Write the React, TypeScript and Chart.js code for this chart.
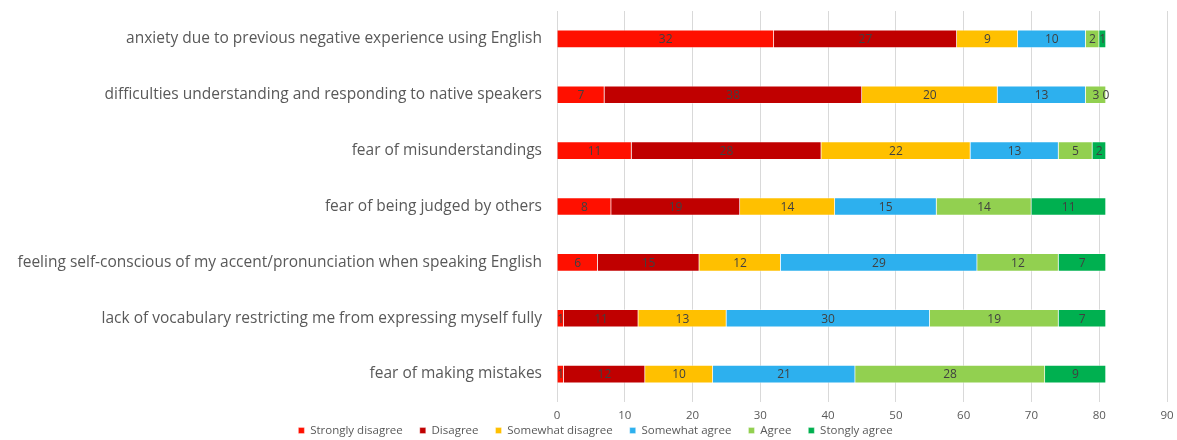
import React, { useEffect, useRef } from "react";
import { Chart, registerables } from "chart.js";

Chart.register(...registerables);

const categories = [
  "anxiety due to previous negative experience using English",
  "difficulties understanding and responding to native speakers",
  "fear of misunderstandings",
  "fear of being judged by others",
  "feeling self-conscious of my accent/pronunciation when speaking English",
  "lack of vocabulary restricting me from expressing myself fully",
  "fear of making mistakes",
];

const stronglyDisagree = [32, 7, 11, 8, 6, 1, 1];
const disagree = [27, 38, 28, 19, 15, 11, 12];
const somewhatDisagree = [9, 20, 22, 14, 12, 13, 10];
const somewhatAgree = [10, 13, 13, 15, 29, 30, 21];
const agree = [2, 3, 5, 14, 12, 19, 28];
const stronglyAgree = [1, 0, 2, 11, 7, 7, 9];

const seriesNames = [
  "Strongly disagree",
  "Disagree",
  "Somewhat disagree",
  "Somewhat agree",
  "Agree",
  "Stongly agree",
];
const seriesColors = ["#FF1000", "#C00000", "#FFC000", "#2DB0EE", "#92D050", "#00B050"];
const xTicks = [0, 10, 20, 30, 40, 50, 60, 70, 80, 90];

const FONT = "'Open Sans'";

const labelPlugin = {
  id: "barValueLabels",
  afterLayout(chart: any) {
    const lg = chart.legend;
    if (lg) {
      lg.top -= 22;
      lg.bottom -= 22;
      lg.left += 12;
      lg.right += 12;
    }
  },
  afterDatasetsDraw(chart: any) {
    const ctx = chart.ctx;
    ctx.save();
    ctx.font = "12px " + FONT;
    ctx.fillStyle = "#404040";
    ctx.textAlign = "center";
    ctx.textBaseline = "middle";
    chart.data.datasets.forEach((ds: any, di: number) => {
      const meta = chart.getDatasetMeta(di);
      meta.data.forEach((el: any, i: number) => {
        const v = ds.data[i];
        const p = el.getProps(["x", "y", "base"], true);
        const cx = (p.x + p.base) / 2;
        ctx.fillText(String(v), cx, p.y + 1);
      });
    });
    ctx.restore();
  },
};

if (typeof document !== "undefined") {
  document.body.style.margin = "0";
  document.body.style.overflow = "hidden";
}

export default function App() {
  const ref = useRef<HTMLCanvasElement | null>(null);
  useEffect(() => {
    if (!ref.current) return;
    const data = [stronglyDisagree, disagree, somewhatDisagree, somewhatAgree, agree, stronglyAgree];
    const chart = new Chart(ref.current, {
      type: "bar",
      data: {
        labels: categories,
        datasets: data.map((d, i) => ({
          label: seriesNames[i],
          data: d,
          backgroundColor: seriesColors[i],
          borderColor: "rgba(255,255,255,0.35)",
          borderWidth: 1,
          barThickness: 18,
        })),
      },
      options: {
        indexAxis: "y",
        animation: false,
        responsive: true,
        maintainAspectRatio: false,
        layout: { padding: { top: 11, right: 10, left: 0, bottom: -28.3 } },
        plugins: {
          legend: {
            position: "bottom",
            labels: {
              boxWidth: 6,
              boxHeight: 6,
              padding: 17,
              color: "#595959",
              font: { size: 11.5, family: FONT },
            },
          },
          tooltip: { enabled: false },
        },
        scales: {
          x: {
            stacked: true,
            min: 0,
            max: 90,
            afterBuildTicks: (scale: any) => {
              scale.ticks = xTicks.map((v) => ({ value: v }));
            },
            afterFit: (scale: any) => {
              scale.paddingLeft = 0;
              scale.paddingRight = 0;
            },
            grid: { color: "#D9D9D9", drawTicks: false },
            border: { display: false },
            ticks: { color: "#595959", font: { size: 11.5, family: FONT }, padding: 7 },
          },
          y: {
            stacked: true,
            afterFit: (scale: any) => {
              scale.width = 557;
              scale.paddingTop = 0;
              scale.paddingBottom = 0;
            },
            grid: { display: false, drawTicks: false },
            border: { display: false },
            ticks: { color: "#595959", font: { size: 15.5, family: FONT }, padding: 15 },
          },
        },
      },
      plugins: [labelPlugin],
    });
    return () => chart.destroy();
  }, []);
  return (
    <div style={{ width: 1177, height: 440 }}>
      <canvas ref={ref} />
    </div>
  );
}
